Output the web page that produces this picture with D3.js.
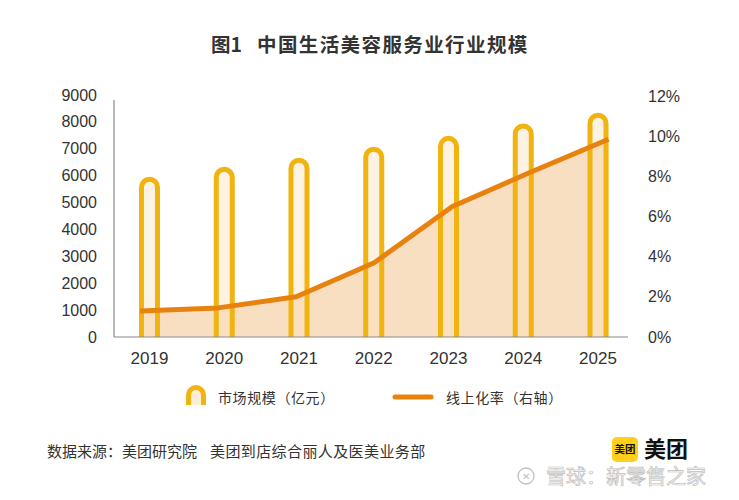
<!DOCTYPE html>
<html><head><meta charset="utf-8">
<script src="https://cdn.jsdelivr.net/npm/d3@7"></script>
<style>
html,body{margin:0;padding:0;background:#fff;}
svg{display:block;}
</style>
</head><body>
<svg id="c" width="739" height="500"></svg>
<script>
const years = ["2019","2020","2021","2022","2023","2024","2025"];
const marketSize = [5960, 6330, 6670, 7080, 7480, 7940, 8340];
const onlineRate = [1.3, 1.45, 2.0, 3.7, 6.5, 8.2, 9.85];
const leftTicks = [0,1000,2000,3000,4000,5000,6000,7000,8000,9000];
const rightTicks = [0,2,4,6,8,10,12];
const titleParts = ["图1", "中国生活美容服务业行业规模"];
const legendLabels = ["市场规模（亿元）", "线上化率（右轴）"];
const sourceParts = ["数据来源：美团研究院", "美团到店综合丽人及医美业务部"];

const svg = d3.select("#c");
const numFont = "'Liberation Sans', Arial, sans-serif";
const cjkFont = "'Noto Sans CJK SC', 'Noto Sans', sans-serif";
const barColor = "#f1b30f";
const lineColor = "#e8820e";

const y = d3.scaleLinear().domain([0, 9000]).range([337, 95]);
const yR = d3.scaleLinear().domain([0, 12]).range([337, 96]);
const x = d3.scalePoint().domain(years).range([149.5, 598]);
const sw = 5, bw = 16;
const xl = d3.scalePoint().domain(years).range([x(years[0]) - bw/2 - sw/2 + 1, x(years[years.length-1]) + bw/2 + sw/2]);

// title
const t = svg.append("g").attr("font-family", cjkFont).attr("font-weight", "bold")
  .attr("font-size", 19.5).attr("fill", "#333");
t.append("text").attr("x", 211).attr("y", 52).text(titleParts[0]);
t.append("text").attr("x", 257).attr("y", 52).attr("letter-spacing", 1.4).text(titleParts[1]);

// left ticks
svg.append("g").selectAll("text").data(leftTicks).join("text")
  .attr("x", 97).attr("y", d => y(d)).attr("dy", "0.35em").attr("text-anchor", "end")
  .attr("font-family", numFont).attr("font-size", 16).attr("fill", "#333").text(d => d);

// right ticks
svg.append("g").selectAll("text").data(rightTicks).join("text")
  .attr("x", 648).attr("y", d => yR(d)).attr("dy", "0.35em").attr("text-anchor", "start")
  .attr("font-family", numFont).attr("font-size", 16).attr("fill", "#333").text(d => d + "%");

// area
const area = d3.area().x((d, i) => xl(years[i])).y0(y(0)).y1(d => yR(d));
svg.append("path").datum(onlineRate).attr("d", area).attr("fill", "#f9dfc2");

// bars
svg.append("g").selectAll("path").data(marketSize).join("path")
  .attr("d", (d, i) => {
    const cx = x(years[i]), l = cx - bw/2, r = cx + bw/2, top = y(d) + sw/2, rr = bw/2, b = y(0);
    return `M${l},${b}V${top + rr}A${rr},${rr} 0 0 1 ${r},${top + rr}V${b}`;
  })
  .attr("fill", "rgba(252,226,185,0.42)")
  .attr("stroke", barColor).attr("stroke-width", sw);

// axes lines
svg.append("line").attr("x1", 114).attr("x2", 114).attr("y1", 100).attr("y2", y(0))
  .attr("stroke", "#8a8a8a").attr("stroke-width", 1.2);
svg.append("line").attr("x1", 114).attr("x2", 628).attr("y1", y(0)).attr("y2", y(0))
  .attr("stroke", "#8a8a8a").attr("stroke-width", 1.2);

// line
const line = d3.line().x((d, i) => xl(years[i])).y(d => yR(d));
svg.append("path").datum(onlineRate).attr("d", line).attr("fill", "none")
  .attr("stroke", lineColor).attr("stroke-width", 5).attr("stroke-linejoin", "round");

// year labels
svg.append("g").selectAll("text").data(years).join("text")
  .attr("x", d => x(d)).attr("y", 358).attr("dy", "0.35em").attr("text-anchor", "middle")
  .attr("font-family", numFont).attr("font-size", 17).attr("fill", "#333").text(d => d);

// legend
const lg = svg.append("g");
lg.append("path").attr("d", "M188.5,405V395A7.5,7.5 0 0 1 203.5,395V405")
  .attr("fill", "rgba(252,226,185,0.6)").attr("stroke", barColor).attr("stroke-width", 5);
lg.append("text").attr("x", 218).attr("y", 398).attr("dy", "0.35em")
  .attr("font-family", cjkFont).attr("font-size", 14).attr("letter-spacing", 0.6).attr("fill", "#333").text(legendLabels[0]);
lg.append("line").attr("x1", 395).attr("x2", 431).attr("y1", 397).attr("y2", 397)
  .attr("stroke", lineColor).attr("stroke-width", 5).attr("stroke-linecap", "round");
lg.append("text").attr("x", 446).attr("y", 398).attr("dy", "0.35em")
  .attr("font-family", cjkFont).attr("font-size", 14).attr("letter-spacing", 0.6).attr("fill", "#333").text(legendLabels[1]);

// source
const s = svg.append("g").attr("font-family", cjkFont).attr("font-size", 15).attr("fill", "#333");
s.append("text").attr("x", 47).attr("y", 452).attr("dy", "0.35em").text(sourceParts[0]);
s.append("text").attr("x", 210).attr("y", 452).attr("dy", "0.35em").attr("letter-spacing", 0.4).text(sourceParts[1]);

// logo
svg.append("rect").attr("x", 612).attr("y", 437).attr("width", 26).attr("height", 25).attr("rx", 5)
  .attr("fill", "#ffcf1a");
svg.append("text").attr("x", 625).attr("y", 449.5).attr("dy", "0.35em").attr("text-anchor", "middle")
  .attr("font-family", cjkFont).attr("font-weight", "bold").attr("font-size", 10.5).attr("fill", "#111").text("美团");
svg.append("text").attr("x", 644).attr("y", 449).attr("dy", "0.35em")
  .attr("font-family", cjkFont).attr("font-weight", "bold").attr("font-size", 22).attr("fill", "#111").text("美团");

// watermark
const wm = svg.append("g").attr("opacity", 0.75);
wm.append("circle").attr("cx", 526).attr("cy", 476).attr("r", 8)
  .attr("fill", "none").attr("stroke", "#aaa").attr("stroke-width", 1.3);
wm.append("text").attr("x", 526).attr("y", 476).attr("dy", "0.35em").attr("text-anchor", "middle")
  .attr("font-family", numFont).attr("font-size", 10).attr("fill", "#aaa").text("✕");
wm.append("text").attr("x", 546).attr("y", 477).attr("dy", "0.35em")
  .attr("font-family", cjkFont).attr("font-size", 20).attr("fill", "#fafafa")
  .attr("stroke", "#a8a8a8").attr("stroke-width", 0.7).text("雪球：新零售之家");
</script>
</body></html>
